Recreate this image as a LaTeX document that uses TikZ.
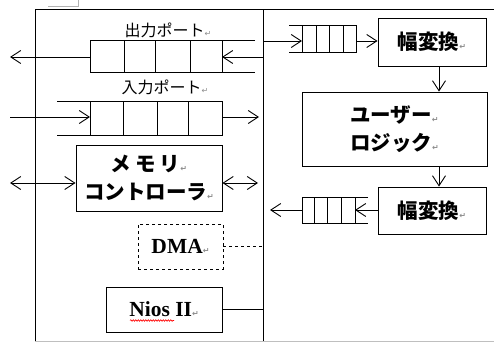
\documentclass[tikz,border=0pt]{standalone}
\usepackage{fontspec}
\setmainfont{Liberation Serif}
\newfontfamily\cjk{Noto Sans CJK JP}
\newfontfamily\symf{DejaVu Sans}
\usetikzlibrary{arrows.meta,decorations.pathmorphing}
\newcommand{\retm}{{\symf\color{black!45}\fontsize{8}{8}\selectfont ↵}}
\begin{document}
\begin{tikzpicture}[x=1pt,y=-1pt,line width=0.9pt,
  tipb/.tip={Straight Barb[length=10pt,width=13pt,line width=0.9pt]},
  arr/.style={-tipb},
  darr/.style={tipb-tipb},
  box/.style={draw,rectangle,inner sep=0pt,align=center,
    font=\cjk\bfseries\fontsize{20.5}{28}\selectfont},
  latbox/.style={draw,rectangle,inner sep=0pt,align=center,
    font=\bfseries\fontsize{21.5}{22}\selectfont},
  portlbl/.style={inner sep=0pt,font=\cjk\fontsize{16}{18}\selectfont},
  artifact/.style={draw=black!30,line width=0.7pt}]
\useasboundingbox (0,0) rectangle (494,342);

% Word artifacts at top-left
\draw[artifact] (48,6) -- (78,6) (78,0) -- (78,7);

% frame
\coordinate (div) at (263,9.5);
\draw (494,9.5) -- (35,9.5) -- (35,342);
\draw (div) -- (263,342);
\draw[black!25,line width=0.8pt] (35,341) -- (494,341);

% output port
\node[portlbl] (olbl) at (168,30) {出力ポート\retm};
\draw (255,40.7) -- (90,40.7) -- (90,72.3) -- (255,72.3);
\foreach \x in {124,155,190,222} \draw (\x,40.7) -- (\x,72.3);
\coordinate (oqR) at (222,57);
\coordinate (oqL) at (90,57);
\coordinate (oout) at (10,57);
\draw[arr] (div |- oqR) -- (oqR);
\draw[arr] (oqL) -- (oout);

% input port
\node[portlbl] (ilbl) at (165,87) {入力ポート\retm};
\draw (57,101.7) -- (222,101.7) -- (222,135) -- (57,135);
\foreach \x in {90,123,157,188} \draw (\x,101.7) -- (\x,135);
\coordinate (iin) at (10,117);
\coordinate (iqL) at (90,117);
\coordinate (iqR) at (222,117);
\coordinate (iout) at (259,117);
\draw[arr] (iin) -- (iqL);
\draw[arr] (iqR) -- (iout);

% memory controller
\node[box,minimum width=146pt,minimum height=66pt] (mc) at (149,178)
  {メ\hspace{4pt}モ\hspace{4pt}リ\retm\\コントローラ\retm};
\coordinate (mcy) at (0,183);
\coordinate (mcext) at (10,183);
\coordinate (mcint) at (258,183);
\draw[darr] (mcext) -- (mc.west |- mcy);
\draw[darr] (mc.east |- mcy) -- (mcint);

% DMA
\node[latbox,dashed,minimum width=85pt,minimum height=45pt] (dma) at (180.5,246.5) {DMA\retm};
\draw[dashed] (dma.east) -- (dma.east -| div);

% Nios II
\node[latbox,minimum width=116pt,minimum height=45pt] (nios) at (164,309.5) {Nios II\retm};
\draw (nios.east) -- (nios.east -| div);
\draw[red,line width=0.6pt,decorate,decoration={snake,amplitude=0.8pt,segment length=2.5pt}]
  (130,320.5) -- (174,320.5);

% right side: input path
\node[box,minimum width=108pt,minimum height=48pt] (w1) at (432,42) {幅変換\retm};
\draw (289,25.5) -- (356,25.5) -- (356,52.5) -- (289,52.5);
\foreach \x in {302,316,329,343} \draw (\x,25.5) -- (\x,52.5);
\coordinate (q1L) at (302,41);
\coordinate (q1R) at (356,41);
\draw[arr] (div |- q1L) -- (q1L);
\draw[arr] (q1R) -- (w1.west |- q1R);

\node[box,minimum width=185pt,minimum height=74pt] (ul) at (394.5,129)
  {ユーザー\retm\\ロジック\retm};
\coordinate (cx) at (439,0);
\draw[arr] (w1.south -| cx) -- (ul.north -| cx);

\node[box,minimum width=108pt,minimum height=47pt] (w2) at (432,210.5) {幅変換\retm};
\draw[arr] (ul.south -| cx) -- (w2.north -| cx);

% right side: output path
\draw (368,197) -- (302,197) -- (302,223) -- (368,223);
\foreach \x in {314,327,341,355} \draw (\x,197) -- (\x,223);
\coordinate (q2R) at (355,210);
\coordinate (q2L) at (302,210);
\coordinate (q2out) at (270,210);
\draw[arr] (w2.west |- q2R) -- (q2R);
\draw[arr] (q2L) -- (q2out);
\end{tikzpicture}
\end{document}
